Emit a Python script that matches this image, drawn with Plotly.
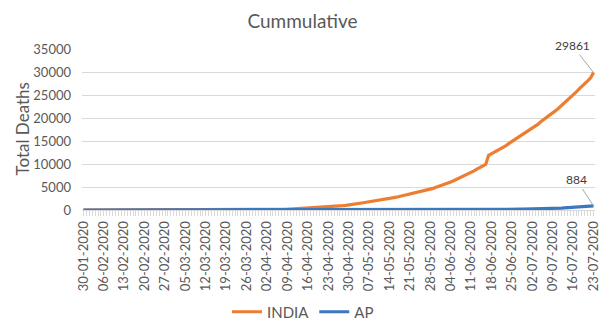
import pandas as pd
import plotly.graph_objects as go

# Daily dates, 30-01-2020 .. 23-07-2020
dates = pd.date_range("2020-01-30", "2020-07-23", freq="D").strftime("%d-%m-%Y").tolist()

# Cumulative deaths, India (by month)
india_jan = [0, 0]
india_feb = [0, 0, 0, 0, 0, 0, 0, 0, 0, 0, 0, 0, 0, 0, 0, 0, 0, 0, 0, 0, 0, 0, 0, 0, 0, 0, 0, 0, 0]
india_mar = [0, 0, 0, 0, 0, 0, 0, 0, 0, 0, 0, 1, 2, 2, 2, 2, 3, 3, 4, 5, 6, 7, 9, 10, 11, 16, 20, 24, 27, 32, 35]
india_apr = [41, 50, 62, 75, 83, 111, 124, 149, 169, 206, 239, 273, 324, 353, 392, 420, 452, 488, 519, 559,
             603, 652, 686, 723, 779, 826, 886, 937, 1008, 1075]
india_may = [1152, 1218, 1301, 1373, 1568, 1694, 1783, 1886, 1981, 2109, 2206, 2293, 2415, 2549, 2649, 2752,
             2872, 3029, 3163, 3303, 3435, 3583, 3720, 3867, 4021, 4167, 4337, 4531, 4706, 4971, 5164]
india_jun = [5394, 5598, 5815, 6075, 6348, 6642, 6929, 7135, 7466, 7745, 8102, 8498, 8884, 9195, 9520, 9900,
             11903, 12237, 12573, 12948, 13254, 13699, 14011, 14476, 14894, 15301, 15685, 16095, 16475, 16893]
india_jul = [17400, 17834, 18213, 18655, 19268, 19693, 20160, 20642, 21129, 21604, 22123, 22674, 23174, 23727,
             24309, 24915, 25602, 26273, 26816, 27497, 28084, 28732, 29861]

# Cumulative deaths, Andhra Pradesh (by month)
ap_jan = [0, 0]
ap_feb = [0, 0, 0, 0, 0, 0, 0, 0, 0, 0, 0, 0, 0, 0, 0, 0, 0, 0, 0, 0, 0, 0, 0, 0, 0, 0, 0, 0, 0]
ap_mar = [0, 0, 0, 0, 0, 0, 0, 0, 0, 0, 0, 0, 0, 0, 0, 0, 0, 0, 0, 0, 0, 0, 0, 0, 0, 0, 0, 0, 0, 0, 0]
ap_apr = [0, 0, 1, 1, 3, 3, 4, 6, 6, 7, 7, 7, 9, 9, 14, 14, 15, 16, 20, 22, 24, 26, 27, 29, 31, 31, 31, 31, 31, 31]
ap_may = [33, 34, 36, 36, 36, 38, 40, 41, 44, 45, 46, 46, 48, 48, 49, 50, 50, 52, 52, 53, 55, 55, 55, 56, 56,
          57, 58, 59, 60, 62, 64]
ap_jun = [64, 64, 68, 71, 73, 73, 75, 77, 78, 80, 82, 82, 84, 86, 88, 90, 92, 96, 99, 101, 106, 111, 119, 128,
          136, 146, 157, 169, 180, 187]
ap_jul = [193, 198, 206, 232, 252, 264, 277, 292, 309, 328, 365, 408, 452, 492, 534, 586, 642, 677, 696, 758,
          806, 835, 884]

india = india_jan + india_feb + india_mar + india_apr + india_may + india_jun + india_jul
ap = ap_jan + ap_feb + ap_mar + ap_apr + ap_may + ap_jun + ap_jul

y_ticks = [0, 5000, 10000, 15000, 20000, 25000, 30000, 35000]

idx = list(range(len(dates)))
tick_idx = idx[::7]
tick_text = [dates[i] for i in tick_idx]

FONT = "Lato"
GREY = "#595959"
GRID = "#d9d9d9"

fig = go.Figure()
fig.add_trace(go.Scatter(x=idx, y=india, mode="lines", name="INDIA",
                         line=dict(color="#ED7D31", width=3.2)))
fig.add_trace(go.Scatter(x=idx, y=ap, mode="lines", name="AP",
                         line=dict(color="#3C78C0", width=3.2)))

last = len(dates) - 1
fig.add_annotation(x=last, y=india[-1], text=str(india[-1]), showarrow=True,
                   arrowhead=0, arrowwidth=1, arrowcolor="#a6a6a6", ax=-21, ay=-27,
                   font=dict(family=FONT, size=12, color="#404040"))
fig.add_annotation(x=last, y=ap[-1], text=str(ap[-1]), showarrow=True,
                   arrowhead=0, arrowwidth=1, arrowcolor="#a6a6a6", ax=-17, ay=-26,
                   font=dict(family=FONT, size=12, color="#404040"))

# Y axis title
fig.add_annotation(text="Total Deaths", textangle=-90, showarrow=False,
                   xref="paper", yref="paper", x=(22 - 82) / 513, y=0.5,
                   xanchor="center", yanchor="middle",
                   font=dict(family=FONT, size=17, color=GREY))

fig.update_layout(
    width=605, height=322,
    margin=dict(l=82, r=10, t=49, b=112, autoexpand=False),
    paper_bgcolor="white", plot_bgcolor="white",
    font=dict(family=FONT, color=GREY),
    title=dict(text="Cummulative", x=0.5, xref="container", xanchor="center",
               y=1 - 21 / 322, yref="container", yanchor="middle",
               font=dict(family=FONT, size=19, color=GREY)),
    showlegend=True,
    legend=dict(orientation="h", x=303 / 605, xref="container", xanchor="center",
                y=1 - 312 / 322, yref="container", yanchor="middle",
                font=dict(family=FONT, size=15, color=GREY), itemwidth=30,
                bgcolor="rgba(0,0,0,0)"),
)

fig.update_xaxes(
    range=[-0.5, len(dates) - 0.5], tickmode="array", tickvals=tick_idx, ticktext=tick_text,
    tickangle=-90, tickfont=dict(family=FONT, size=13, color=GREY), automargin=False,
    showgrid=False, zeroline=False, showline=True, linecolor=GRID, linewidth=1,
    ticks="outside", ticklen=5, tickcolor=GRID, tickwidth=1,
    minor=dict(ticks="outside", ticklen=5, tickcolor=GRID, tickwidth=1, tick0=0, dtick=1),
)

fig.update_yaxes(
    range=[0, 35000], tickmode="array", tickvals=y_ticks, ticktext=[str(v) for v in y_ticks],
    tickfont=dict(family=FONT, size=13, color=GREY), automargin=False,
    showgrid=True, gridcolor=GRID, gridwidth=1, zeroline=False, showline=False,
    ticks="", ticklabelstandoff=10,
)

fig.write_html("out.html")
